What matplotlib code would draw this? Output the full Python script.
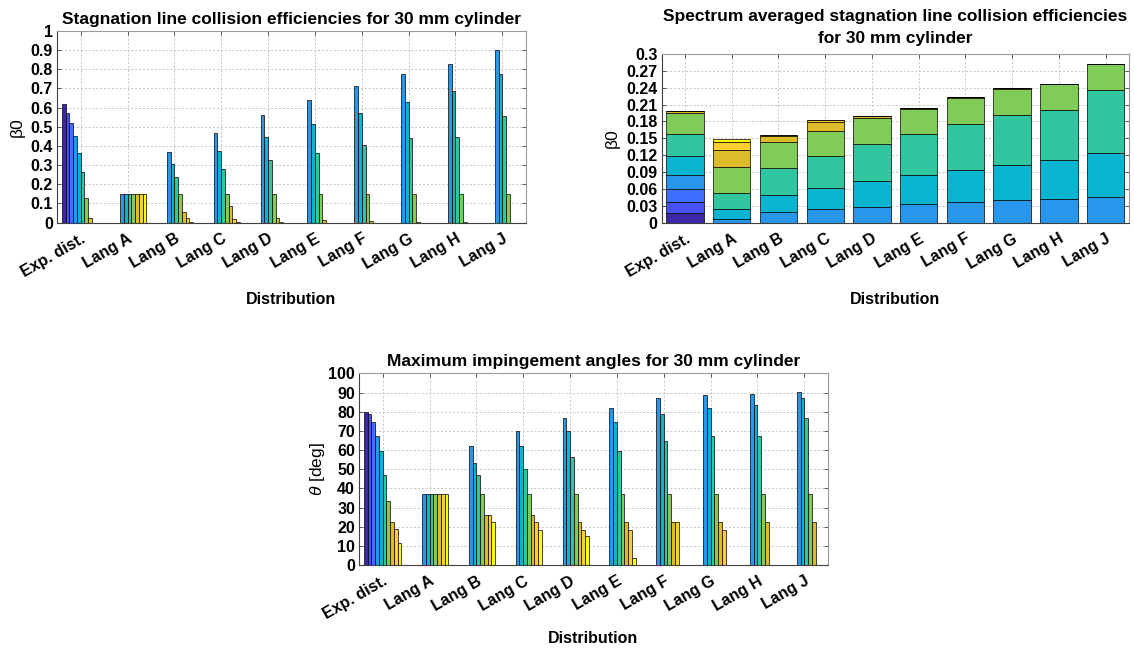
import numpy as np
import matplotlib
matplotlib.use('Agg')
import matplotlib.pyplot as plt

plt.rcParams['font.family'] = ['Liberation Sans', 'DejaVu Sans']
plt.rcParams['mathtext.fontset'] = 'custom'
plt.rcParams['mathtext.rm'] = 'Liberation Sans'
plt.rcParams['mathtext.it'] = 'Liberation Sans:italic'

# data
categories = ['Exp. dist.', 'Lang A', 'Lang B', 'Lang C', 'Lang D',
              'Lang E', 'Lang F', 'Lang G', 'Lang H', 'Lang J']

# parula(10)
bin_colors = ['#3E26A8', '#4852F4', '#3E6FFF', '#2796EB', '#08B4D0',
              '#31C69F', '#80CC59', '#DCBD29', '#FCCF30', '#F9FB14']

# stagnation line collision efficiency per drop bin
beta0 = np.array([
    [0.620, 0.572, 0.518, 0.451, 0.366, 0.266, 0.128, 0.024, 0.000, 0.000],
    [0.000, 0.000, 0.000, 0.150, 0.150, 0.150, 0.150, 0.150, 0.150, 0.150],
    [0.000, 0.000, 0.000, 0.370, 0.304, 0.240, 0.150, 0.055, 0.023, 0.005],
    [0.000, 0.000, 0.000, 0.466, 0.375, 0.278, 0.150, 0.085, 0.020, 0.005],
    [0.000, 0.000, 0.000, 0.562, 0.446, 0.326, 0.150, 0.023, 0.006, 0.000],
    [0.000, 0.000, 0.000, 0.641, 0.515, 0.366, 0.150, 0.015, 0.000, 0.000],
    [0.000, 0.000, 0.000, 0.715, 0.572, 0.404, 0.150, 0.008, 0.000, 0.000],
    [0.000, 0.000, 0.000, 0.777, 0.632, 0.444, 0.150, 0.005, 0.000, 0.000],
    [0.000, 0.000, 0.000, 0.827, 0.686, 0.447, 0.150, 0.004, 0.000, 0.000],
    [0.000, 0.000, 0.000, 0.900, 0.777, 0.556, 0.150, 0.000, 0.000, 0.000],
])

# spectrum averaged contributions (stacked)
beta0_avg = np.array([
    [0.0172, 0.0196, 0.0226, 0.0249, 0.0337, 0.0390, 0.0376, 0.0036, 0.0005, 0.0],
    [0.0, 0.0, 0.0, 0.0060, 0.0178, 0.0285, 0.0462, 0.0308, 0.0137, 0.0064],
    [0.0, 0.0, 0.0, 0.0185, 0.0308, 0.0485, 0.0452, 0.0117, 0.0010, 0.0],
    [0.0, 0.0, 0.0, 0.0238, 0.0380, 0.0562, 0.0446, 0.0171, 0.0023, 0.0003],
    [0.0, 0.0, 0.0, 0.0285, 0.0451, 0.0658, 0.0473, 0.0023, 0.0005, 0.0],
    [0.0, 0.0, 0.0, 0.0327, 0.0516, 0.0727, 0.0457, 0.0018, 0.0, 0.0],
    [0.0, 0.0, 0.0, 0.0363, 0.0580, 0.0807, 0.0460, 0.0020, 0.0, 0.0],
    [0.0, 0.0, 0.0, 0.0398, 0.0634, 0.0888, 0.0456, 0.0024, 0.0, 0.0],
    [0.0, 0.0, 0.0, 0.0421, 0.0694, 0.0895, 0.0457, 0.0005, 0.0, 0.0],
    [0.0, 0.0, 0.0, 0.0457, 0.0777, 0.1126, 0.0462, 0.0, 0.0, 0.0],
])

# maximum impingement angle [deg]
theta_max = np.array([
    [80.0, 78.8, 74.6, 67.5, 59.6, 47.0, 33.4, 22.6, 18.6, 11.3],
    [0, 0, 0, 37.0, 37.0, 37.0, 37.0, 37.0, 37.0, 37.0],
    [0, 0, 0, 62.2, 53.2, 46.8, 37.0, 26.1, 26.1, 22.4],
    [0, 0, 0, 69.9, 62.2, 50.2, 37.0, 26.1, 22.4, 18.4],
    [0, 0, 0, 76.5, 69.9, 56.5, 37.0, 22.4, 18.4, 15.1],
    [0, 0, 0, 81.9, 74.6, 59.6, 37.0, 22.4, 18.4, 3.5],
    [0, 0, 0, 87.0, 78.6, 64.7, 37.0, 22.4, 22.4, 0],
    [0, 0, 0, 88.7, 81.9, 67.5, 37.0, 22.4, 18.4, 0],
    [0, 0, 0, 89.2, 83.5, 67.5, 37.0, 22.4, 0, 0],
    [0, 0, 0, 90.1, 87.0, 76.5, 37.0, 22.4, 0, 0],
])

x = np.arange(1, len(categories) + 1)
n_bins = beta0.shape[1]
bw = 0.8 / n_bins


def style(ax, yticks, title, ylabel, label_x, label_y):
    ax.set_xlim(0.5, 10.5)
    ax.set_ylim(yticks[0], yticks[-1])
    ax.set_xticks(x)
    ax.set_xticklabels(categories, rotation=30, ha='right', va='top',
                       rotation_mode='anchor', fontsize=11.5, fontweight='bold')
    ax.set_yticks(yticks)
    ax.set_yticklabels([f'{round(v, 2):g}' for v in yticks],
                       fontsize=11.5, fontweight='bold')
    ax.tick_params(direction='in', top=True, right=True, length=3,
                   width=0.6, color='#404040')
    ax.tick_params(axis='x', pad=6)
    ax.tick_params(axis='y', pad=3)
    ax.set_axisbelow(True)
    ax.grid(True, linestyle=(0, (2, 2)), color='#c4c4c4', linewidth=0.7)
    for side in ['left', 'bottom']:
        ax.spines[side].set_color('#404040')
    for side in ['top', 'right']:
        ax.spines[side].set_color('#9a9a9a')
    ax.set_title(title, fontsize=12.5, fontweight='bold', pad=5)
    ax.set_xlabel('Distribution', fontsize=11.5, fontweight='bold')
    ax.xaxis.set_label_coords(0.5, label_y)
    ax.set_ylabel(ylabel, fontsize=12.5)
    ax.yaxis.set_label_coords(label_x, 0.5)
    ax.yaxis.label.set_va('center')


fig = plt.figure(figsize=(11.34, 6.52), dpi=100)
ax1 = fig.add_axes([0.0505, 0.6585, 0.4131, 0.294])
ax2 = fig.add_axes([0.5835, 0.6585, 0.412, 0.2587])
ax3 = fig.add_axes([0.3168, 0.1334, 0.4131, 0.294])

# grouped bars, beta0
for i in range(n_bins):
    ax1.bar(x + (i - 4.5) * bw, beta0[:, i], width=bw, color=bin_colors[i],
            edgecolor='black', linewidth=0.5)
style(ax1, np.round(np.arange(0, 1.01, 0.1), 2),
      'Stagnation line collision efficiencies for 30 mm cylinder',
      'β0', -0.085, -0.36)

# stacked bars, spectrum averaged
bottom = np.zeros(len(categories))
for i in range(n_bins):
    ax2.bar(x, beta0_avg[:, i], width=0.8, bottom=bottom, color=bin_colors[i],
            edgecolor='black', linewidth=0.5)
    bottom += beta0_avg[:, i]
style(ax2, np.round(np.arange(0, 0.301, 0.03), 2),
      'Spectrum averaged stagnation line collision efficiencies\nfor 30 mm cylinder',
      'β0', -0.105, -0.41)
ax2.set_title(ax2.get_title(), fontsize=12.5, fontweight='bold', pad=8,
              linespacing=1.6)

# grouped bars, impingement angle
for i in range(n_bins):
    ax3.bar(x + (i - 4.5) * bw, theta_max[:, i], width=bw, color=bin_colors[i],
            edgecolor='black', linewidth=0.5)
style(ax3, np.arange(0, 101, 10),
      'Maximum impingement angles for 30 mm cylinder',
      r'$\theta$ [deg]', -0.09, -0.345)

fig.savefig('out.png', dpi=100)
